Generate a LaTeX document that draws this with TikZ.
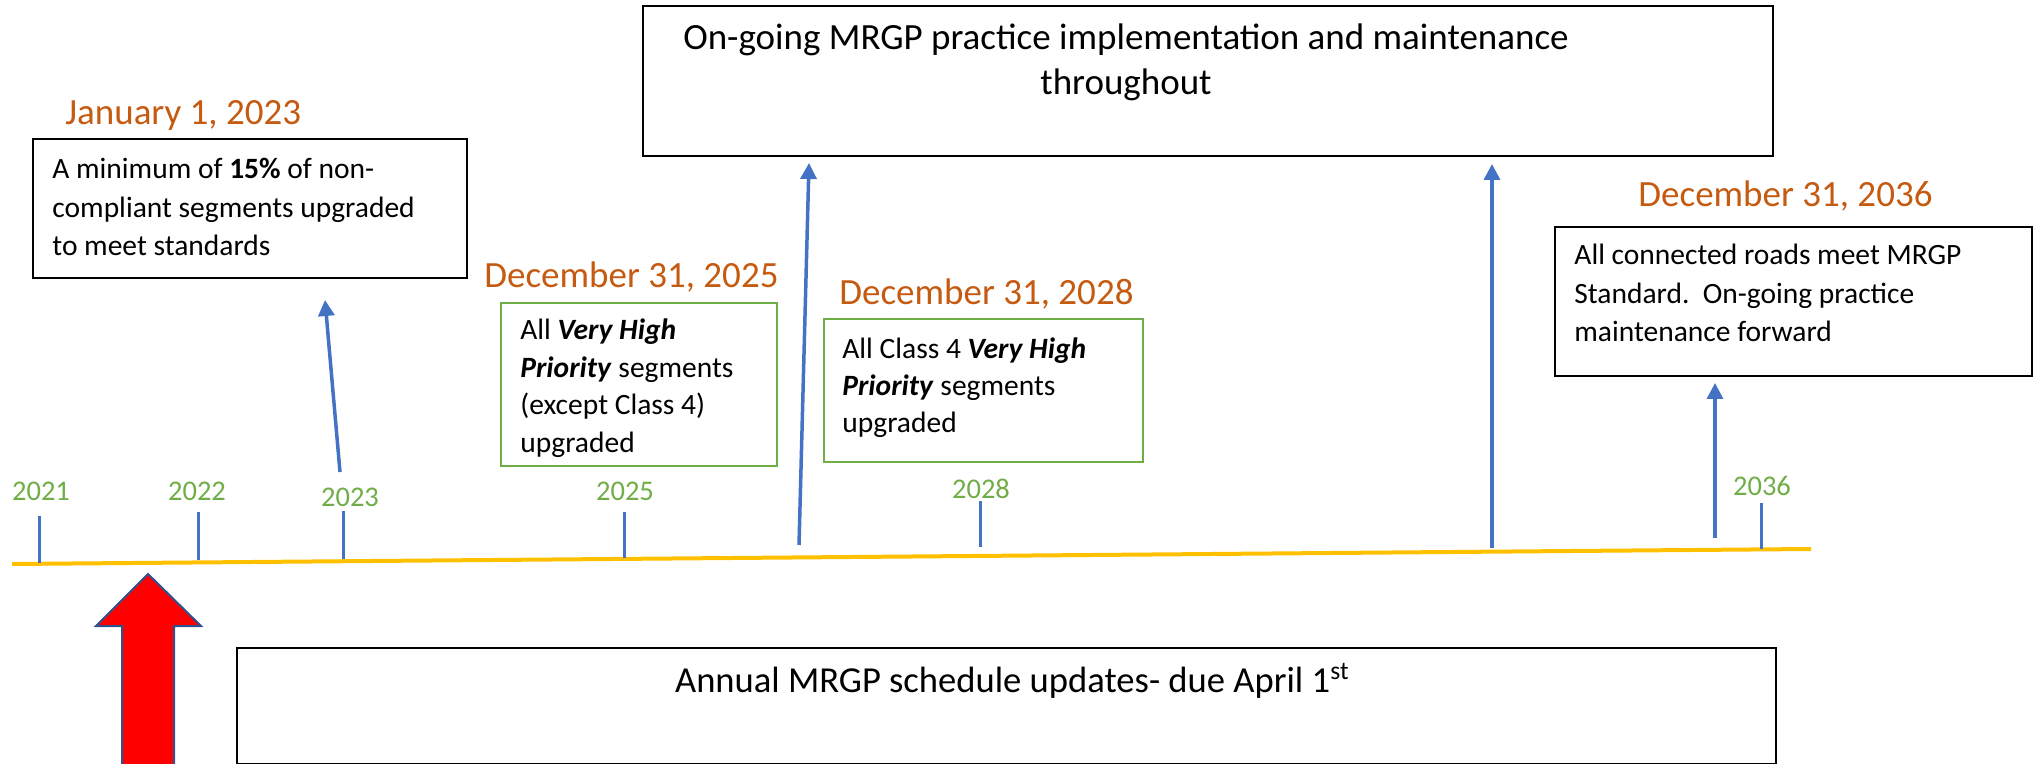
\documentclass[tikz,border=0pt]{standalone}
\usepackage{fontspec}
\setmainfont{Carlito}
\usetikzlibrary{arrows.meta}
\definecolor{orng}{HTML}{C55A11}
\definecolor{grn}{HTML}{70AD47}
\definecolor{blu}{HTML}{4472C4}
\definecolor{ylw}{HTML}{FFC000}
\definecolor{navy}{HTML}{2F528F}
\newcommand\txtblockL[2]{\parbox[t]{#1}{\raggedright #2}}
\newcommand\txtblockC[2]{\parbox[t]{#1}{\centering #2}}
\newcommand\bi[1]{\textbf{\textit{#1}}}
\begin{document}
\begin{tikzpicture}[x=0.5pt,y=-0.5pt,
  boxblack/.style={draw=black, line width=0.85pt, inner sep=0, anchor=north west},
  boxgreen/.style={draw=grn, line width=1pt, inner sep=0, anchor=north west},
  bodytext/.style={inner sep=0, anchor=base west, text=black},
  datetext/.style={inner sep=0, anchor=base west, text=orng, font=\fontsize{18.5}{22}\selectfont},
  yeartext/.style={inner sep=0, anchor=base, text=grn, font=\fontsize{14.25}{17}\selectfont},
  tickline/.style={draw=blu, line width=1.5pt},
  uparrow/.style={draw=blu, line width=1.75pt, -{Triangle[width=8pt,length=8pt]}},
  timeline/.style={draw=ylw, line width=2pt},
  bigarrow/.style={fill=red, draw=navy, line width=1pt},
]
\useasboundingbox (0,0) rectangle (2034,764);

% timeline
\coordinate (tlL) at (12,564);
\coordinate (tlR) at (1811,549);
\draw[timeline] (tlL) -- (tlR);

% ticks
\coordinate (k21a) at (39,563);  \coordinate (k21b) at (39,516);
\coordinate (k22a) at (198,560); \coordinate (k22b) at (198,512);
\coordinate (k23a) at (343,559); \coordinate (k23b) at (343,511);
\coordinate (k25a) at (624,558); \coordinate (k25b) at (624,512);
\coordinate (k28a) at (980,547); \coordinate (k28b) at (980,501);
\coordinate (k36a) at (1761,549); \coordinate (k36b) at (1761,503);
\foreach \k in {21,22,23,25,28,36} \draw[tickline] (k\k a) -- (k\k b);

% year labels
\node[yeartext] (y21) at (41,501) {2021};
\node[yeartext] (y22) at (197,501) {2022};
\node[yeartext] (y23) at (350,506) {2023};
\node[yeartext] (y25) at (625,501) {2025};
\node[yeartext] (y28) at (981,498) {2028};
\node[yeartext] (y36) at (1762,495) {2036};

% boxes
\node[boxblack, minimum width=217pt, minimum height=69.5pt] (b23) at (32,138) {};
\node[boxblack, minimum width=565pt, minimum height=75pt] (btop) at (642,5) {};
\node[boxgreen, minimum width=138pt, minimum height=81.5pt] (b25) at (500,302) {};
\node[boxgreen, minimum width=159.5pt, minimum height=71.5pt] (b28) at (823,318) {};
\node[boxblack, minimum width=238.5pt, minimum height=74.5pt] (b36) at (1554,226) {};
\node[boxblack, minimum width=769.5pt, minimum height=58pt] (bbot) at (236,647) {};

% dates
\node[datetext] (d23) at (65,125) {January 1, 2023};
\node[datetext] (d25) at (484,288) {December 31, 2025};
\node[datetext] (d28) at (839,305) {December 31, 2028};
\node[datetext] (d36) at (1638,207) {December 31, 2036};

% box texts
\node[bodytext] (t23) at (52,179) {\txtblockL{250pt}{\fontsize{14.75}{19.25}\selectfont A minimum of \textbf{15\%} of non-\\compliant segments upgraded\\to meet standards}};
\node[bodytext] (t25) at (520,340) {\txtblockL{200pt}{\fontsize{14.75}{18.75}\selectfont All \bi{Very High}\\\bi{Priority} segments\\(except Class 4)\\upgraded}};
\node[bodytext] (t28) at (842,359) {\txtblockL{200pt}{\fontsize{14.75}{18.5}\selectfont All Class 4 \bi{Very High}\\\bi{Priority} segments\\upgraded}};
\node[bodytext] (t36) at (1574,265) {\txtblockL{250pt}{\fontsize{14.75}{19.25}\selectfont All connected roads meet MRGP\\Standard.\ \ On-going practice\\maintenance forward}};
\node[inner sep=0, anchor=base] (ttop) at (1126,50) {\txtblockC{540pt}{\fontsize{18.5}{22.5}\selectfont On-going MRGP practice implementation and maintenance\\throughout}};
\node[inner sep=0, anchor=base east] (tbot) at (1350,692) {\fontsize{18.3}{22}\selectfont Annual MRGP schedule updates- due April 1\textsuperscript{st}};

% blue arrows
\coordinate (a23s) at (340,472); \coordinate (a23e) at (325,300);
\coordinate (a1s) at (799,545);  \coordinate (a1e) at (809,163);
\coordinate (a2s) at (1492,548); \coordinate (a2e) at (1492,164);
\coordinate (a36s) at (1715,538); \coordinate (a36e) at (1715,383);
\draw[uparrow] (a23s) -- (a23e);
\draw[uparrow] (a1s) -- (a1e);
\draw[uparrow] (a2s) -- (a2e);
\draw[uparrow] (a36s) -- (a36e);

% red block arrow
\draw[bigarrow] (148,574) -- (201,626) -- (174,626) -- (174,766) -- (122,766) -- (122,626) -- (96,626) -- cycle;
\end{tikzpicture}
\end{document}
